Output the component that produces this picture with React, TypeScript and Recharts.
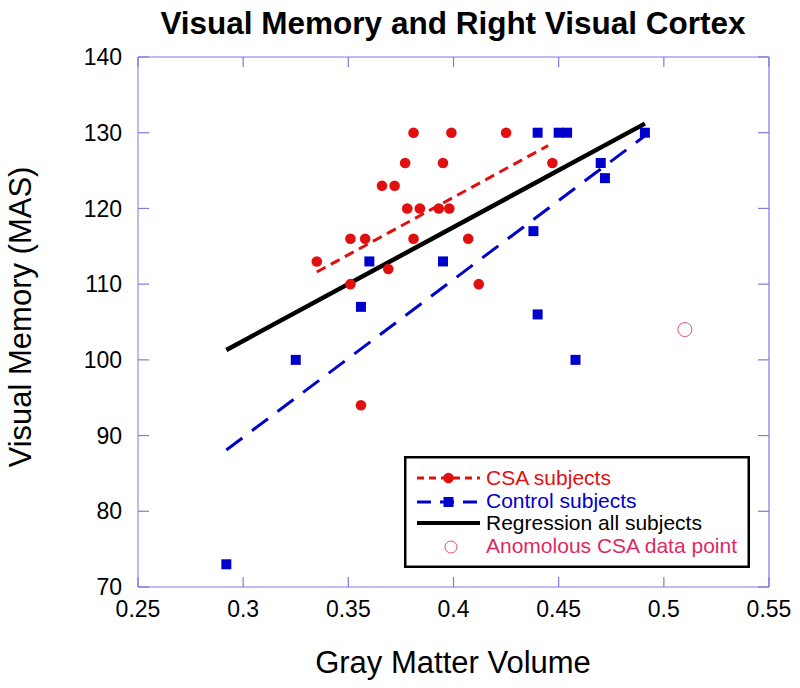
import { ScatterChart, Scatter, XAxis, YAxis, Legend, ReferenceLine } from 'recharts'

const xTicks = [0.25, 0.3, 0.35, 0.4, 0.45, 0.5, 0.55]
const yTicks = [70, 80, 90, 100, 110, 120, 130, 140]

// CSA subjects (red circles)
const csaPoints = [
  { x: 0.335, y: 113 },
  { x: 0.351, y: 116 },
  { x: 0.358, y: 116 },
  { x: 0.351, y: 110 },
  { x: 0.369, y: 112 },
  { x: 0.366, y: 123 },
  { x: 0.372, y: 123 },
  { x: 0.377, y: 126 },
  { x: 0.381, y: 130 },
  { x: 0.378, y: 120 },
  { x: 0.384, y: 120 },
  { x: 0.381, y: 116 },
  { x: 0.395, y: 126 },
  { x: 0.399, y: 130 },
  { x: 0.393, y: 120 },
  { x: 0.398, y: 120 },
  { x: 0.407, y: 116 },
  { x: 0.412, y: 110 },
  { x: 0.425, y: 130 },
  { x: 0.447, y: 126 },
  { x: 0.356, y: 94 }
]

// control subjects (blue squares)
const controlPoints = [
  { x: 0.36, y: 113 },
  { x: 0.395, y: 113 },
  { x: 0.356, y: 107 },
  { x: 0.325, y: 100 },
  { x: 0.438, y: 117 },
  { x: 0.44, y: 106 },
  { x: 0.44, y: 130 },
  { x: 0.45, y: 130 },
  { x: 0.454, y: 130 },
  { x: 0.491, y: 130 },
  { x: 0.47, y: 126 },
  { x: 0.472, y: 124 },
  { x: 0.458, y: 100 },
  { x: 0.292, y: 73 }
]

const anomalousPoint = [{ x: 0.51, y: 104 }]

// fitted lines (end points)
const csaFit = [
  { x: 0.335, y: 111.6 },
  { x: 0.445, y: 128.3 }
]
const controlFit = [
  { x: 0.292, y: 88.1 },
  { x: 0.4906, y: 129.5 }
]
const allFit = [
  { x: 0.292, y: 101.3 },
  { x: 0.491, y: 131.2 }
]

const FONT = '"Liberation Sans", Arial, Helvetica, sans-serif'
const FRAME = '#7b7be0'
const RED = '#e01010'
const BLUE = '#0000cc'
const PINK = '#dc2a64'
const TICK = 10

const legendItems = [
  { label: 'CSA subjects', color: RED },
  { label: 'Control subjects', color: BLUE },
  { label: 'Regression all subjects', color: '#000' },
  { label: 'Anomolous CSA data point', color: PINK }
]

function LegendBox() {
  const rows = [22, 46, 67, 91]
  const base = [29, 52, 74, 97]
  return (
    <svg width={346} height={112} style={{ display: 'block' }}>
      <rect x={1.25} y={1.25} width={343.5} height={109.5} fill="#fff" stroke="#000" strokeWidth={2.5} />
      <line x1={13} x2={76} y1={rows[0]} y2={rows[0]} stroke={RED} strokeWidth={3} strokeDasharray="7 5" />
      <circle cx={44.5} cy={rows[0]} r={5.3} fill={RED} />
      <line x1={13} x2={76} y1={rows[1]} y2={rows[1]} stroke={BLUE} strokeWidth={3} strokeDasharray="14 9" />
      <rect x={39.5} y={rows[1] - 5} width={10} height={10} fill={BLUE} />
      <line x1={13} x2={76} y1={rows[2]} y2={rows[2]} stroke="#000" strokeWidth={4} />
      <circle cx={47} cy={rows[3]} r={6} fill="none" stroke="#e05080" strokeWidth={1} />
      {legendItems.map((it, i) => (
        <text key={it.label} x={82} y={base[i]} fill={it.color} fontSize={21} fontFamily={FONT}>
          {it.label}
        </text>
      ))}
    </svg>
  )
}

// inner tick marks on both ends of a reference line
const xTickMarks = (p: any) => {
  const top = Math.min(p.y1, p.y2)
  const bottom = Math.max(p.y1, p.y2)
  return (
    <g stroke={FRAME} strokeWidth={1.2}>
      <line x1={p.x1} x2={p.x1} y1={top} y2={top + TICK} />
      <line x1={p.x1} x2={p.x1} y1={bottom} y2={bottom - TICK} />
    </g>
  )
}
const yTickMarks = (p: any) => {
  const left = Math.min(p.x1, p.x2)
  const right = Math.max(p.x1, p.x2)
  return (
    <g stroke={FRAME} strokeWidth={1.2}>
      <line x1={left} x2={left + TICK + 1} y1={p.y1} y2={p.y1} />
      <line x1={right} x2={right - TICK - 1} y1={p.y1} y2={p.y1} />
    </g>
  )
}

const redDot = (p: any) => <circle cx={p.cx} cy={p.cy} r={5.3} fill={RED} />
const blueSquare = (p: any) => <rect x={p.cx - 5} y={p.cy - 5} width={10} height={10} fill={BLUE} />
const hollowDot = (p: any) => <circle cx={p.cx} cy={p.cy} r={7} fill="none" stroke="#e05080" strokeWidth={1} />
const noShape = () => <g />

export default function App() {
  return (
    <div style={{ position: 'relative', width: 800, height: 688, background: '#fff', fontFamily: FONT }}>
      <style>{'body{margin:0}'}</style>
      <ScatterChart width={800} height={688} margin={{ top: 57, right: 31, bottom: 0, left: 0 }}>
        <XAxis
          type="number"
          dataKey="x"
          domain={[0.25, 0.55]}
          ticks={xTicks}
          allowDataOverflow
          height={101}
          stroke={FRAME}
          tickLine={false}
          tickSize={0}
          tickMargin={14}
          tick={{ fill: '#000', fontSize: 23, fontFamily: FONT }}
        />
        <YAxis
          type="number"
          dataKey="y"
          domain={[70, 140]}
          ticks={yTicks}
          allowDataOverflow
          width={138}
          stroke={FRAME}
          tickLine={false}
          tickSize={0}
          tickMargin={16}
          tick={{ fill: '#000', fontSize: 23, fontFamily: FONT }}
        />
        {/* frame top and right */}
        <ReferenceLine y={140} stroke={FRAME} strokeWidth={1.2} />
        <ReferenceLine x={0.55} stroke={FRAME} strokeWidth={1.2} />
        {xTicks.map((t) => (
          <ReferenceLine key={'xt' + t} x={t} shape={xTickMarks} />
        ))}
        {yTicks.map((t) => (
          <ReferenceLine key={'yt' + t} y={t} shape={yTickMarks} />
        ))}
        <Scatter
          data={allFit}
          line={{ stroke: '#000', strokeWidth: 4.5 }}
          shape={noShape}
          isAnimationActive={false}
        />
        <Scatter
          data={controlFit}
          line={{ stroke: BLUE, strokeWidth: 3, strokeDasharray: '20 12' }}
          shape={noShape}
          isAnimationActive={false}
        />
        <Scatter
          data={csaFit}
          line={{ stroke: RED, strokeWidth: 3, strokeDasharray: '10 6' }}
          shape={noShape}
          isAnimationActive={false}
        />
        <Scatter data={controlPoints} shape={blueSquare} isAnimationActive={false} />
        <Scatter data={csaPoints} shape={redDot} isAnimationActive={false} />
        <Scatter data={anomalousPoint} shape={hollowDot} isAnimationActive={false} />
        <Legend
          layout="vertical"
          align="center"
          verticalAlign="middle"
          wrapperStyle={{ position: 'absolute', left: 404, top: 456, width: 346, height: 112 }}
          content={() => <LegendBox />}
        />
      </ScatterChart>
      <svg width={800} height={688} style={{ position: 'absolute', left: 0, top: 0, pointerEvents: 'none' }}>
        <text x={453} y={34} textAnchor="middle" fontSize={31.5} fontWeight="bold" fontFamily={FONT}>
          Visual Memory and Right Visual Cortex
        </text>
        <text x={453} y={673} textAnchor="middle" fontSize={31} fontFamily={FONT}>
          Gray Matter Volume
        </text>
        <text
          x={0}
          y={0}
          transform="translate(31 317) rotate(-90)"
          textAnchor="middle"
          fontSize={31}
          fontFamily={FONT}
        >
          Visual Memory (MAS)
        </text>
      </svg>
    </div>
  )
}
